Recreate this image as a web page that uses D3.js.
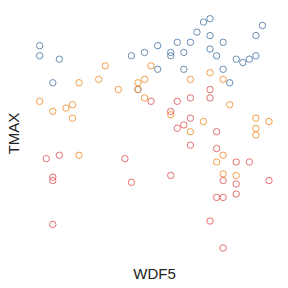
<!DOCTYPE html>
<html><head><meta charset="utf-8">
<script src="https://cdn.jsdelivr.net/npm/d3@7"></script>
<style>body{margin:0;background:#fff}</style>
</head><body>
<script>
// WDF5 (degrees), TMAX values per series
const blueX = [10,10,40,30,150,170,260,270,250,270,350,340,190,220,240,290,210,210,230,270,280,310,320,330,340,190,230,290,300,160];
const blueY = [92,89,88,81,89,90,99,100,96,95,98,95,92,93,93,93,90,89,90,91,89,88,87,88,89,85,85,85,81,79];
const orangeX = [110,180,70,100,130,160,170,160,10,30,50,60,60,170,270,240,290,300,210,260,340,360,70,240,340,340,290,280,290,310];
const orangeY = [86,86,81,82,79,81,82,79,75.5,72.5,73.5,74.5,70.5,76.5,84,82,82,74.5,71.5,69.5,70.5,69.5,59.5,66.5,67.5,65.5,59.5,57.5,54,53.5];
const redX = [180,270,270,240,220,210,240,230,220,280,20,40,140,30,30,150,30,240,280,310,330,210,290,310,360,310,280,290,270,290];
const redY = [75.5,79,76.5,76.5,75.5,72.5,70.5,68.5,67.5,66.5,58.5,59.5,58.5,53,52,51.5,39,62.5,61.5,57.5,57.5,53.5,52,51,52,48,47,47,40,32];
const xLabel = "WDF5", yLabel = "TMAX";

const W = 288, H = 288;
const svg = d3.select("body").append("svg").attr("width", W).attr("height", H);
const x = d3.scaleLinear().domain([10, 360]).range([39.7, 269]);
const y = d3.scaleLinear().domain([32, 100]).range([248, 18.7]);

const series = [
  {xs: blueX, ys: blueY, color: "#4e79a7"},
  {xs: orangeX, ys: orangeY, color: "#f28e2b"},
  {xs: redX, ys: redY, color: "#e15759"}
];
series.forEach(s => {
  svg.append("g").selectAll("circle")
    .data(s.xs.map((v, i) => [v, s.ys[i]]))
    .join("circle")
    .attr("cx", d => x(d[0])).attr("cy", d => y(d[1]))
    .attr("r", 3.2)
    .attr("fill", "none")
    .attr("stroke", s.color)
    .attr("stroke-opacity", 0.85)
    .attr("stroke-width", 1);
});

svg.append("text").attr("x", 154.5).attr("y", 279)
  .attr("text-anchor", "middle").attr("font-family", "Liberation Sans, Arial, sans-serif")
  .attr("font-size", 15).attr("fill", "#222").text(xLabel);
svg.append("text").attr("transform", "translate(19,133.5) rotate(-90)")
  .attr("text-anchor", "middle").attr("font-family", "Liberation Sans, Arial, sans-serif")
  .attr("font-size", 15).attr("fill", "#222").text(yLabel);
</script>
</body></html>
